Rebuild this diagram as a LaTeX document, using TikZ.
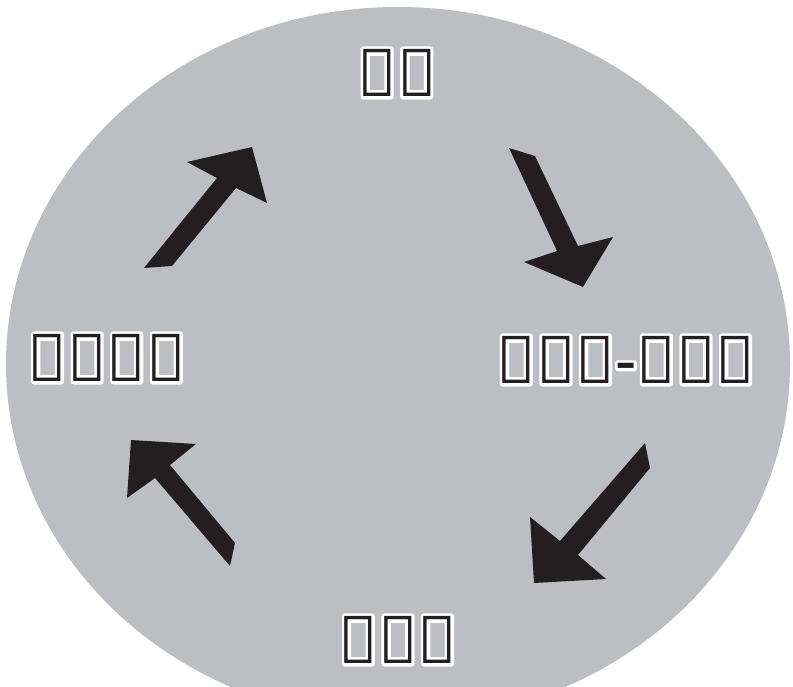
\documentclass[tikz,border=0pt]{standalone}
\usepackage{fontspec}
\newfontfamily\eth{Noto Sans}
\definecolor{bgell}{HTML}{BDBEC2}
\definecolor{arrk}{HTML}{231F20}
\tikzset{
  lbl/.style={inner sep=0pt, font=\eth\bfseries\fontsize{66}{68}\selectfont, text=arrk},
  blockarrow/.style={fill=arrk, draw=none},
}
\newcommand{\strk}[1]{\special{pdf:literal direct 1 1 1 RG 1 j 6 w 1 Tr}#1\special{pdf:literal direct 0 Tr}}
\newcommand{\outlabel}[3]{%
  \node[lbl,text=white] at (#2) {\strk{#3}};
  \node[lbl] (#1) at (#2) {#3};}
\begin{document}
\begin{tikzpicture}[x=1pt,y=-1pt]
\useasboundingbox (0,0) rectangle (793,687);
\begin{scope}
\clip (0,0) rectangle (793,687);
\fill[bgell] (398,364) ellipse [x radius=392, y radius=357];
\end{scope}
% block arrows
\fill[blockarrow] (144,268) -- (217,178) -- (187,162) -- (252,147) -- (267,203) -- (236,188) -- (172,266) -- cycle;
\fill[blockarrow] (509,148) -- (535,156) -- (578,246) -- (613,237) -- (583,287) -- (524,262) -- (557,251) -- cycle;
\fill[blockarrow] (645,443) -- (650,468) -- (578,555) -- (606,579) -- (534,583) -- (530,517) -- (560,541) -- cycle;
\fill[blockarrow] (230,566) -- (235,543) -- (170,465) -- (196,444) -- (131,440) -- (127,498) -- (155,478) -- cycle;
% labels
\outlabel{top}{397,73}{ሕቶ}
\outlabel{right}{626,360}{ክልሰ-ሓሳብ}
\outlabel{left}{107,358}{ትግባረ}
\outlabel{bottom}{398,640}{ፈተነ}
\end{tikzpicture}
\end{document}
